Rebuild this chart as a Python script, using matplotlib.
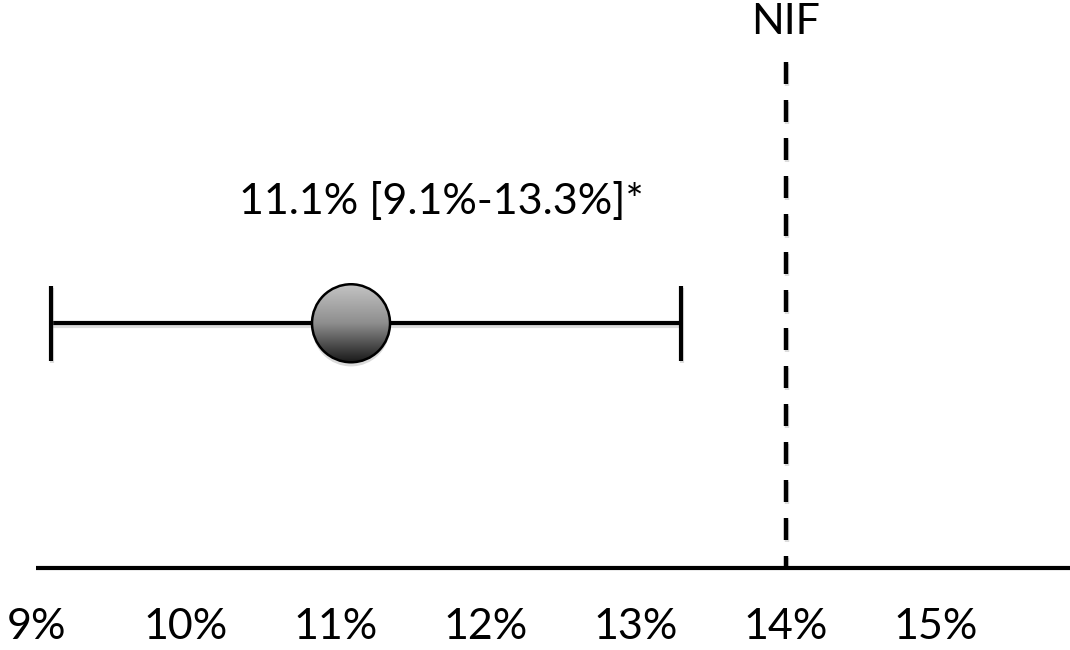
import matplotlib
matplotlib.use("Agg")
import matplotlib.pyplot as plt
import matplotlib.patheffects as pe
import numpy as np
from matplotlib.colors import LinearSegmentedColormap
from matplotlib.patches import Circle
from matplotlib.transforms import ScaledTranslation

# Pooled estimate with its 95% confidence interval (percent)
estimate = 11.1
ci_low = 9.1
ci_high = 13.3
estimate_label = "11.1% [9.1%-13.3%]*"

# Reference threshold
nif_value = 14.0
nif_label = "NIF"

# Axis ticks
tick_values = [9, 10, 11, 12, 13, 14, 15]
tick_labels = ["9%", "10%", "11%", "12%", "13%", "14%", "15%"]

plt.rcParams['font.family'] = ['Lato', 'DejaVu Sans']

fig = plt.figure(figsize=(10.7, 6.5), dpi=100)
ax = fig.add_axes([0, 0.126, 1, 0.874])
x_min, x_max = 8.76, 15.893
row_y = 0.431

line_shadow = [pe.SimpleLineShadow(offset=(0.6, -1.8), shadow_color='0.55', alpha=0.3),
               pe.Normal()]

# Confidence interval bar
eb = ax.errorbar([estimate], [row_y],
                 xerr=[[estimate - ci_low], [ci_high - estimate]],
                 fmt='none', ecolor='black', elinewidth=3, capsize=27,
                 capthick=3, zorder=3)
for cap in eb.lines[1]:
    cap.set_path_effects(line_shadow)
for bar in eb.lines[2]:
    bar.set_path_effects(line_shadow)
    bar.set_capstyle('butt')

# Shaded ball marking the point estimate
radius = 0.39  # inches
ball_trans = fig.dpi_scale_trans + ScaledTranslation(estimate, row_y, ax.transData)
base = Circle((0, 0), radius, transform=ball_trans, facecolor='#888888',
              edgecolor='none', zorder=4)
base.set_path_effects([pe.SimplePatchShadow(offset=(0, -3), shadow_rgbFace='0.6',
                                            alpha=0.35), pe.Normal()])
ax.add_patch(base)

ball_cmap = LinearSegmentedColormap.from_list(
    'ball', [(0.0, '#c4c4c4'), (0.5, '#8e8e8e'), (1.0, '#1a1a1a')])
grad = np.linspace(1, 0, 256).reshape(-1, 1)
im = ax.imshow(grad, cmap=ball_cmap, vmin=0, vmax=1, origin='lower',
               extent=(-radius, radius, -radius, radius), aspect='auto',
               interpolation='bilinear', transform=ball_trans, zorder=5)
clip = Circle((0, 0), radius, transform=ball_trans)
im.set_clip_path(clip)
ax.add_patch(Circle((0, 0), radius, transform=ball_trans, fill=False,
                    edgecolor='black', linewidth=1.8, zorder=6))

ax.text(11.7, 0.646, estimate_label, fontsize=31, ha='center', va='center')

# Dashed reference line
ax.plot([nif_value, nif_value], [0.891, 0.0], color='black', linewidth=3.2,
        dashes=(4.95, 3.6), solid_capstyle='butt', dash_capstyle='butt',
        zorder=2, path_effects=line_shadow)
ax.text(nif_value, 0.961, nif_label, fontsize=31, ha='center', va='center')

# Axis styling
ax.set_xlim(x_min, x_max)
ax.set_ylim(0, 1)
ax.set_xticks(tick_values, tick_labels)
ax.set_yticks([])
ax.tick_params(axis='x', length=0, pad=29, labelsize=31)
for side in ('left', 'top', 'right'):
    ax.spines[side].set_visible(False)
ax.spines['bottom'].set_linewidth(3)
ax.spines['bottom'].set_bounds(tick_values[0], x_max)
ax.spines['bottom'].set_capstyle('butt')
ax.spines['bottom'].set_path_effects([pe.SimplePatchShadow(offset=(0.6, -1.8),
                                                           shadow_rgbFace='0.55',
                                                           alpha=0.3),
                                      pe.Normal()])
ax.set_facecolor('white')

fig.savefig('out.png', dpi=100, facecolor='white')
